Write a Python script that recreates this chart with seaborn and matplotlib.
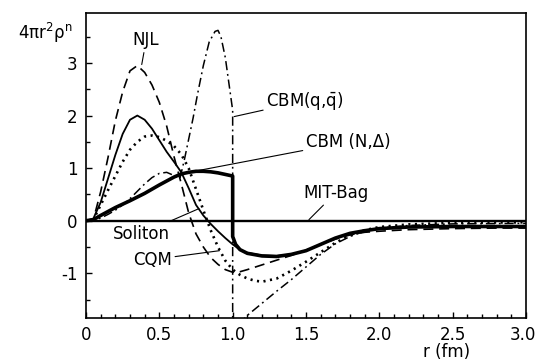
import numpy as np
import pandas as pd
import matplotlib
matplotlib.use("Agg")
import matplotlib.pyplot as plt
import matplotlib.transforms as mtransforms
import seaborn as sns

# ---- data ----
njl_r = [0.0, 0.05, 0.1, 0.15, 0.2, 0.25, 0.3, 0.35, 0.4, 0.45, 0.5, 0.55, 0.6, 0.65, 0.7,
         0.75, 0.8, 0.85, 0.9, 0.95, 1.0, 1.05, 1.1, 1.2, 1.3, 1.4, 1.5, 1.6, 1.7, 1.8,
         1.9, 2.0, 2.2, 2.5, 2.8, 3.0]
njl_y = [0.0, 0.02, 0.55, 1.2, 1.9, 2.45, 2.85, 2.95, 2.82, 2.58, 2.25, 1.8, 1.22, 0.7, 0.15,
         -0.25, -0.5, -0.7, -0.83, -0.93, -0.98, -0.97, -0.93, -0.84, -0.75, -0.66, -0.56, -0.45, -0.35, -0.27,
         -0.22, -0.2, -0.17, -0.15, -0.14, -0.14]

sol_r = [0.0, 0.05, 0.1, 0.15, 0.2, 0.25, 0.3, 0.35, 0.4, 0.45, 0.5, 0.55, 0.6, 0.65, 0.7,
         0.75, 0.8, 0.85, 0.9, 0.95, 1.0, 1.05, 1.1, 1.2, 1.3, 1.4, 1.5, 1.6, 1.7, 1.8,
         1.9, 2.0, 2.2, 2.5, 3.0]
sol_y = [0.0, 0.04, 0.35, 0.8, 1.25, 1.65, 1.92, 2.0, 1.92, 1.75, 1.53, 1.31, 1.12, 0.92, 0.62,
         0.3, 0.1, -0.06, -0.2, -0.33, -0.45, -0.55, -0.61, -0.66, -0.67, -0.64, -0.57, -0.45, -0.33, -0.24,
         -0.19, -0.15, -0.12, -0.11, -0.1]

cqm_r = [0.0, 0.05, 0.1, 0.15, 0.2, 0.25, 0.3, 0.35, 0.4, 0.45, 0.5, 0.55, 0.6, 0.65, 0.7,
         0.75, 0.8, 0.85, 0.9, 0.95, 1.0, 1.05, 1.1, 1.15, 1.2, 1.3, 1.4, 1.5, 1.6, 1.7,
         1.8, 1.9, 2.0, 2.2, 2.5, 3.0]
cqm_y = [0.0, 0.02, 0.3, 0.58, 0.85, 1.12, 1.35, 1.5, 1.6, 1.62, 1.59, 1.52, 1.42, 1.26, 1.0,
         0.6, 0.2, -0.18, -0.5, -0.76, -0.93, -1.03, -1.1, -1.14, -1.16, -1.1, -0.95, -0.78, -0.6, -0.42,
         -0.28, -0.18, -0.12, -0.07, -0.04, -0.03]

cbmn_r = [0.0, 0.05, 0.1, 0.2, 0.3, 0.4, 0.5, 0.6, 0.65, 0.7, 0.75, 0.8, 0.85, 0.9, 0.95,
          1.0, 1.0, 1.02, 1.05, 1.1, 1.2, 1.3, 1.4, 1.5, 1.6, 1.7, 1.8, 1.9, 2.0, 2.2,
          2.5, 3.0]
cbmn_y = [0.0, 0.02, 0.1, 0.25, 0.38, 0.52, 0.68, 0.83, 0.89, 0.92, 0.94, 0.94, 0.93, 0.91, 0.88,
          0.85, -0.3, -0.45, -0.55, -0.62, -0.67, -0.68, -0.64, -0.57, -0.45, -0.33, -0.24, -0.19, -0.15, -0.12,
          -0.11, -0.11]

cbmq_r = [0.0, 0.05, 0.1, 0.15, 0.2, 0.25, 0.3, 0.35, 0.4, 0.45, 0.5, 0.55, 0.6, 0.64, 0.67,
          0.7, 0.73, 0.76, 0.8, 0.84, 0.88, 0.9, 0.92, 0.95, 0.98, 1.0, 1.0, 1.1, 1.2, 1.3,
          1.4, 1.5, 1.6, 1.7, 1.8, 1.9, 2.0, 2.2, 2.5, 3.0]
cbmq_y = [0.0, 0.01, 0.05, 0.12, 0.2, 0.3, 0.42, 0.56, 0.7, 0.82, 0.9, 0.92, 0.86, 0.8, 1.15,
          1.55, 1.95, 2.4, 2.95, 3.4, 3.6, 3.62, 3.5, 3.1, 2.5, 2.1, -2.1, -1.8, -1.57, -1.34,
          -1.12, -0.88, -0.64, -0.44, -0.3, -0.2, -0.14, -0.09, -0.06, -0.05]

mit_r = [0.0, 3.0]
mit_y = [0.0, 0.0]

x_ticks = [0.0, 0.5, 1.0, 1.5, 2.0, 2.5, 3.0]
x_labels = ["0", "0.5", "1.0", "1.5", "2.0", "2.5", "3.0"]
y_ticks = [-1, 0, 1, 2, 3]
y_labels = ["-1", "0", "1", "2", "3"]

# ---- figure ----
sns.set_style("ticks")
plt.rcParams['font.family'] = ['DejaVu Sans']
plt.rcParams['text.color'] = 'black'
plt.rcParams['xtick.color'] = 'black'
plt.rcParams['ytick.color'] = 'black'

fig = plt.figure(figsize=(5.36, 3.62), dpi=100)
ax = fig.add_axes([86 / 536, 1 - 318 / 362, (526 - 86) / 536, (318 - 13) / 362])

common = dict(ax=ax, color="black", estimator=None, sort=False, legend=False)
sns.lineplot(x=mit_r, y=mit_y, lw=1.7, **common)
sns.lineplot(x=njl_r, y=njl_y, lw=1.2, linestyle=(0, (6, 3.5)), **common)
sns.lineplot(x=sol_r, y=sol_y, lw=1.3, **common)
sns.lineplot(x=cqm_r, y=cqm_y, lw=1.9, linestyle=(0, (0.8, 1.7)), **common)
sns.lineplot(x=cbmn_r, y=cbmn_y, lw=2.6, **common)
sns.lineplot(x=cbmq_r, y=cbmq_y, lw=1.1, linestyle=(0, (6, 2.5, 1.2, 2.5)), **common)

ax.set_xlim(0, 3.0)
ax.set_ylim(-1.85, 3.95)
ax.set_xticks(x_ticks)
ax.set_xticklabels(x_labels)
ax.set_yticks(y_ticks)
ax.set_yticklabels(y_labels)
ax.set_xticks(np.arange(0, 3.01, 0.1), minor=True)
ax.set_yticks([-1.5, -0.5, 0.5, 1.5, 2.5, 3.5], minor=True)
ax.tick_params(which="both", direction="in", labelsize=12, colors="black")
ax.tick_params(which="major", length=4, width=1.0, pad=6)
ax.tick_params(which="minor", length=3, width=1.0)
for s in ax.spines.values():
    s.set_linewidth(1.2)
    s.set_color("black")
ax.set_xlabel("")
ax.set_ylabel("")

# nudge the last x tick label slightly so it stays inside the canvas
last = ax.get_xticklabels()[-1]
last.set_transform(last.get_transform() + mtransforms.ScaledTranslation(-3 / 100, 0, fig.dpi_scale_trans))

fs = 12
ap = dict(arrowstyle="-", lw=0.8, color="black", shrinkA=0, shrinkB=0)
ax.annotate("NJL", xy=(0.38, 2.97), xytext=(0.41, 3.43), ha="center", va="center",
            fontsize=fs, arrowprops=ap)
ax.annotate("CBM(q,$\\bar{\\mathrm{q}}$)", xy=(1.01, 1.98), xytext=(1.23, 2.28), ha="left",
            va="center", fontsize=fs, arrowprops=ap)
ax.annotate("CBM (N,Δ)", xy=(0.72, 0.93), xytext=(1.50, 1.50), ha="left", va="center",
            fontsize=fs, arrowprops=ap)
ax.annotate("MIT-Bag", xy=(1.52, 0.02), xytext=(1.48, 0.53), ha="left", va="center",
            fontsize=fs, arrowprops=ap)
ax.annotate("Soliton", xy=(0.77, 0.23), xytext=(0.18, -0.25), ha="left", va="center",
            fontsize=fs, arrowprops=ap)
ax.annotate("CQM", xy=(0.91, -0.57), xytext=(0.32, -0.74), ha="left", va="center",
            fontsize=fs, arrowprops=ap)

fig.text(18 / 536, 1 - 33 / 362, "4πr$^{\\mathrm{2}}$ρ$^{\\mathrm{n}}$", fontsize=12, ha="left", va="center")
fig.text(447 / 536, 1 - 352 / 362, "r (fm)", fontsize=12, ha="center", va="center")

fig.savefig("out.png", dpi=100)
